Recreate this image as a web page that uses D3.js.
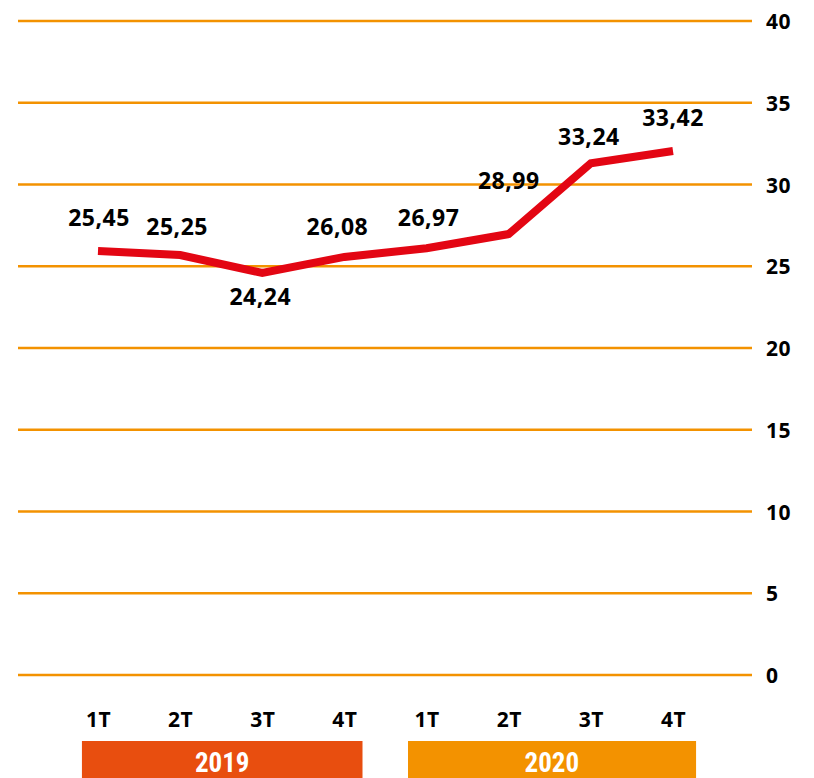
<!DOCTYPE html>
<html>
<head>
<meta charset="utf-8">
<script src="https://cdn.jsdelivr.net/npm/d3@7/dist/d3.min.js"></script>
<style>
  html, body { margin: 0; padding: 0; background: #ffffff; }
  svg { display: block; }
</style>
</head>
<body>
<svg id="chart" width="814" height="778"></svg>
<script>
// ---- data ----
const categories = ["1T", "2T", "3T", "4T", "1T", "2T", "3T", "4T"];
const lineValues = [25.93, 25.69, 24.59, 25.57, 26.10, 26.97, 31.30, 32.05];
const labelTexts = ["25,45", "25,25", "24,24", "26,08", "26,97", "28,99", "33,24", "33,42"];
const yTicks = [0, 5, 10, 15, 20, 25, 30, 35, 40];
const years = ["2019", "2020"];
const yearSpans = [[0, 3], [4, 7]];

// ---- layout / style ----
const labelDy = [-25, -20, 32, -22, -22, -45, -18, -25];
const labelDx = [1, -3, -2, -7, 2, 0, -2, 0];
const yearInsetLeft = [25, 22.5];
const yearInsetRight = [23, 18];
const yearColors = ["#E84E0F", "#F39200"];
const gridColor = "#F39200";
const lineColor = "#E30613";
const font = "'Open Sans', 'DejaVu Sans', sans-serif";

const svg = d3.select("#chart");

const x = d3.scalePoint().domain(d3.range(categories.length)).range([98, 673]);
const y = d3.scaleLinear().domain([0, 40]).range([675, 21]);
const step = x.step();

// gridlines
svg.append("g").selectAll("line").data(yTicks).join("line")
  .attr("x1", 18).attr("x2", 752)
  .attr("y1", d => y(d)).attr("y2", d => y(d))
  .attr("stroke", gridColor).attr("stroke-width", 2.5);

// y axis labels (right)
const yAxis = d3.axisRight(y).tickValues(yTicks).tickSize(0).tickPadding(0).tickFormat(d3.format("d"));
const ya = svg.append("g").attr("transform", "translate(766,1)").call(yAxis);
ya.select(".domain").remove();
ya.selectAll("text")
  .attr("font-family", font).attr("font-weight", 700).attr("font-size", 21)
  .attr("letter-spacing", 0.5)
  .attr("fill", "#000").attr("text-anchor", "start");

// line
const line = d3.line().x((d, i) => x(i)).y(d => y(d)).curve(d3.curveLinear);
svg.append("path").datum(lineValues)
  .attr("d", line)
  .attr("fill", "none")
  .attr("stroke", lineColor)
  .attr("stroke-width", 8)
  .attr("stroke-linejoin", "miter")
  .attr("stroke-linecap", "butt");

// value labels
svg.append("g").selectAll("text").data(lineValues).join("text")
  .attr("x", (d, i) => x(i) + labelDx[i])
  .attr("y", (d, i) => y(d) + labelDy[i])
  .attr("text-anchor", "middle")
  .attr("font-family", font).attr("font-weight", 700).attr("font-size", 23)
  .attr("letter-spacing", 0.5)
  .attr("fill", "#000")
  .text((d, i) => labelTexts[i]);

// category labels
const xAxis = d3.axisBottom(x).tickSize(0).tickPadding(0).tickFormat(i => categories[i]);
const xa = svg.append("g").attr("transform", "translate(0,712)").call(xAxis);
xa.select(".domain").remove();
xa.selectAll("text")
  .attr("font-family", font).attr("font-weight", 700).attr("font-size", 21)
  .attr("letter-spacing", 0.5)
  .attr("fill", "#000");

// year bands
const yg = svg.append("g");
yg.selectAll("rect").data(years).join("rect")
  .attr("x", (d, i) => x(yearSpans[i][0]) - step / 2 + yearInsetLeft[i])
  .attr("width", (d, i) => x(yearSpans[i][1]) - x(yearSpans[i][0]) + step - yearInsetLeft[i] - yearInsetRight[i])
  .attr("y", 741).attr("height", 40)
  .attr("fill", (d, i) => yearColors[i]);
yg.selectAll("text").data(years).join("text")
  .attr("x", (d, i) => (x(yearSpans[i][0]) + x(yearSpans[i][1])) / 2 + (i === 0 ? 1 : 2))
  .attr("y", 772)
  .attr("text-anchor", "middle")
  .attr("font-family", "'Liberation Sans Narrow', 'Roboto Condensed', 'DejaVu Sans Condensed', sans-serif")
  .attr("font-weight", 700).attr("font-size", 27)
  .attr("fill", "#fff")
  .text(d => d);
</script>
</body>
</html>
